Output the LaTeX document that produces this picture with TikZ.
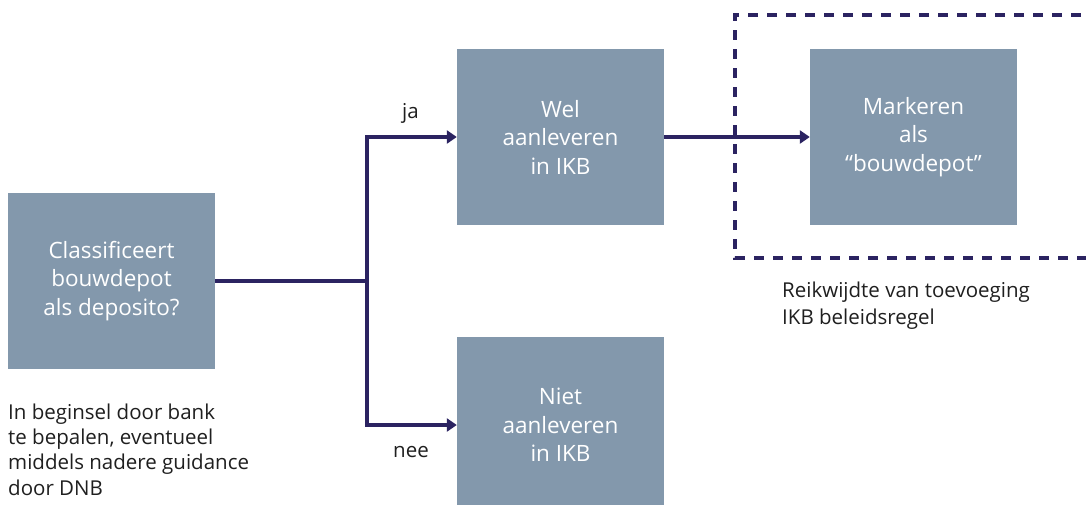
\documentclass[tikz,border=0pt]{standalone}
\usepackage{fontspec}
\setmainfont{Open Sans}
\usetikzlibrary{arrows.meta}
\definecolor{boxfill}{HTML}{8398AC}
\definecolor{navy}{HTML}{2B2361}
\tikzset{
  procbox/.style={draw=none, fill=boxfill, text=white, minimum width=207pt, minimum height=176pt,
    inner sep=0pt, align=center, font=\fontsize{22.5}{28.5}\selectfont},
  conn/.style={draw=navy, line width=3.6pt},
  arr/.style={conn, -{Triangle[length=10pt,width=13pt]}},
  note/.style={text=black!88, inner sep=0pt, align=left, anchor=base west, font=\fontsize{20.5}{25.5}\selectfont},
  scope/.style={draw=navy, line width=3.4pt, dash pattern=on 10pt off 9pt}
}
\begin{document}
\begin{tikzpicture}[x=1pt, y=-1pt]
\useasboundingbox (0,0) rectangle (1086,504);
\clip (0,0) rectangle (1086,504);
\node[procbox] (q) at (111.5,281) {Classificeert\\bouwdepot\\als deposito?};
\node[procbox] (wel) at (560.5,137) {Wel\\aanleveren\\in IKB};
\node[procbox] (niet) at (560.5,425) {Niet\\aanleveren\\in IKB};
\node[procbox] (mark) at (913.5,137) {Markeren\\als\\\char"201C bouwdepot\char"201D};
\coordinate (split) at (367,281);
\draw[conn] (q.east |- split) -- (split);
\draw[arr] (split) |- (wel.west);
\draw[arr] (split) |- (niet.west);
\draw[arr] (wel.east) -- (mark.west);
\coordinate (dtr) at (1100,15);
\coordinate (dbl) at (735,258);
\draw[scope] (dtr) -- (dbl |- dtr) -- (dbl) -- (dbl -| dtr);
\node[note] (ja) at (402,118) {ja};
\node[note] (nee) at (393,457) {nee};
\node[note, font=\fontsize{20.5}{27}\selectfont] (scopelbl) at (782,324) {Reikwijdte van toevoeging\\IKB beleidsregel};
\node[note, font=\fontsize{20.5}{25.3}\selectfont] (hint) at (8,495) {In beginsel door bank\\te bepalen, eventueel\\middels nadere guidance\\door DNB};
\end{tikzpicture}
\end{document}
